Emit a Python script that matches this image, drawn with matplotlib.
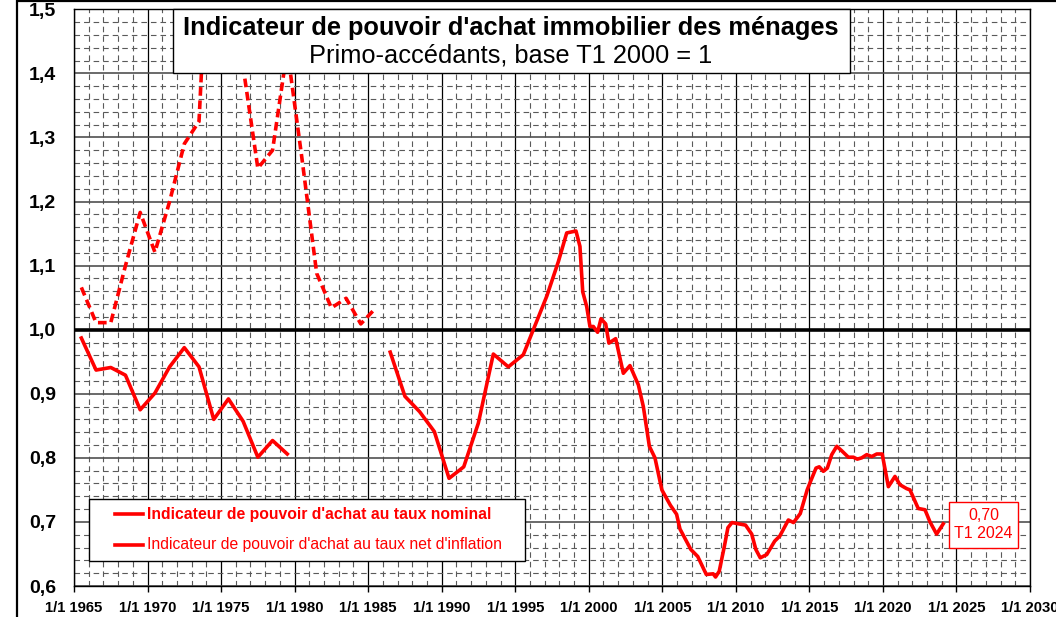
import matplotlib
matplotlib.use("Agg")
import matplotlib.pyplot as plt
from matplotlib.patches import Rectangle
from matplotlib.lines import Line2D
import numpy as np

plt.rcParams['font.family'] = ['Liberation Sans', 'DejaVu Sans']

# Indicateur au taux net d'inflation 1965-1985 (tirets)
annees_net = [1965.5, 1966.5, 1967.5, 1968.5, 1969.5, 1970.5, 1971.5, 1972.5, 1973.5,
              1974.5, 1975.5, 1976.5, 1977.5, 1978.5, 1979.5, 1980.5, 1981.5, 1982.5,
              1983.5, 1984.5, 1985.4]
indic_net = [1.066, 1.011, 1.011, 1.100, 1.183, 1.121, 1.200, 1.290, 1.325,
             1.790, 1.620, 1.410, 1.252, 1.280, 1.437, 1.267, 1.088, 1.034,
             1.049, 1.009, 1.031]

# Indicateur au taux nominal 1965-1979
annees_nom1 = [1965.5, 1966.5, 1967.5, 1968.5, 1969.5, 1970.5, 1971.5, 1972.5,
               1973.5, 1974.5, 1975.5, 1976.5, 1977.5, 1978.5, 1979.5]
indic_nom1 = [0.987, 0.937, 0.941, 0.929, 0.875, 0.901, 0.942, 0.972,
              0.942, 0.860, 0.892, 0.857, 0.801, 0.827, 0.806]

# Indicateur au taux nominal 1986-2024
annees_nom2 = [1986.5, 1987.5, 1988.5, 1989.5, 1990.5, 1991.5, 1992.49, 1993.51,
               1994.53, 1995.55, 1996.23, 1997.14, 1997.93, 1998.5, 1999.13, 1999.4,
               1999.59, 1999.86, 2000.08, 2000.31, 2000.6, 2000.83, 2001.15, 2001.37,
               2001.83, 2002.35, 2002.8, 2003.37, 2003.71, 2004.12, 2004.5, 2004.97,
               2005.55, 2005.97, 2006.2, 2006.94, 2007.41, 2007.99, 2008.46, 2008.62,
               2008.87, 2009.22, 2009.46, 2009.74, 2010.2, 2010.66, 2011.08, 2011.36,
               2011.66, 2012.1, 2012.64, 2012.99, 2013.57, 2013.92, 2014.38, 2014.85,
               2015.04, 2015.45, 2015.67, 2015.95, 2016.22, 2016.52, 2016.86, 2017.2,
               2017.65, 2017.99, 2018.26, 2018.56, 2018.9, 2019.24, 2019.58, 2019.95,
               2020.37, 2020.82, 2021.16, 2021.61, 2021.84, 2022.4, 2022.86, 2023.2,
               2023.65, 2024.1]
indic_nom2 = [0.965, 0.896, 0.872, 0.841, 0.768, 0.786, 0.854, 0.962,
              0.942, 0.961, 1.000, 1.052, 1.106, 1.151, 1.154, 1.130,
              1.059, 1.036, 1.005, 1.005, 0.996, 1.017, 1.009, 0.979,
              0.986, 0.932, 0.944, 0.914, 0.880, 0.818, 0.800, 0.750,
              0.726, 0.712, 0.689, 0.657, 0.646, 0.618, 0.619, 0.614,
              0.623, 0.662, 0.691, 0.699, 0.697, 0.695, 0.681, 0.657,
              0.644, 0.649, 0.670, 0.678, 0.703, 0.699, 0.713, 0.750,
              0.761, 0.784, 0.786, 0.779, 0.784, 0.805, 0.818, 0.811,
              0.801, 0.801, 0.798, 0.800, 0.805, 0.802, 0.806, 0.806,
              0.755, 0.771, 0.758, 0.752, 0.750, 0.721, 0.719, 0.700,
              0.681, 0.697]

annees_ticks = list(range(1965, 2031, 5))
valeurs_ticks = [0.6, 0.7, 0.8, 0.9, 1.0, 1.1, 1.2, 1.3, 1.4, 1.5]

W, H = 1056, 617


def fx(x):
    return x / W


def fy(y):
    return 1 - y / H


fig = plt.figure(figsize=(W / 100, H / 100), dpi=100)
ax = fig.add_axes([fx(74), fy(586), (1030 - 74) / W, (586 - 9.3) / H])

rouge = '#ff0000'
ax.plot(annees_net, indic_net, color=rouge, lw=2.6, ls=(0, (2.4, 1.3)), zorder=3)
ax.plot(annees_nom1, indic_nom1, color=rouge, lw=2.6, zorder=3)
ax.plot(annees_nom2, indic_nom2, color=rouge, lw=2.6, zorder=3)
ax.axhline(1.0, color='black', lw=2.6, zorder=2)

ax.set_xlim(1965, 2030)
ax.set_ylim(0.6, 1.5)
ax.set_xticks(annees_ticks)
ax.set_xticklabels(['1/1 %d' % a for a in annees_ticks], fontsize=10.7, fontweight='bold')
ax.set_xticks(range(1965, 2031), minor=True)
ax.set_yticks(valeurs_ticks)
ax.set_yticklabels([('%.1f' % v).replace('.', ',') for v in valeurs_ticks],
                   fontsize=14, fontweight='bold')
ax.set_yticks(np.arange(0.6, 1.5001, 0.02), minor=True)

ax.set_axisbelow(True)
ax.xaxis.grid(True, which='major', color='black', lw=0.9)
ax.xaxis.grid(True, which='minor', color='#5a5a5a', lw=0.8, ls=(0, (5, 3.6)))
ax.yaxis.grid(True, which='major', color='#505050', lw=1.2)
ax.yaxis.grid(True, which='minor', color='#5a5a5a', lw=0.8, ls=(0, (5, 3.6)))

ax.tick_params(axis='x', which='major', length=4, width=1, direction='out', pad=7)
ax.tick_params(which='minor', length=0)
ax.tick_params(axis='y', which='major', length=0, pad=13)
for s in ax.spines.values():
    s.set_color('black')
    s.set_linewidth(1)

# cadre du graphique
fig.add_artist(Rectangle((fx(17), -0.1), 1.2, fy(1) + 0.1, transform=fig.transFigure,
                         fill=False, ec='black', lw=1.6, zorder=1))

# cartouche du titre
fig.add_artist(Rectangle((fx(173), fy(72.7)), (850 - 173) / W, (72.7 - 9.3) / H,
                         transform=fig.transFigure, fc='white', ec='black', lw=1, zorder=5))
fig.text(fx(511), fy(28), "Indicateur de pouvoir d'achat immobilier des ménages",
         ha='center', va='center', fontsize=18.3, fontweight='bold', zorder=6)
fig.text(fx(511), fy(56), "Primo-accédants, base T1 2000 = 1",
         ha='center', va='center', fontsize=18.3, zorder=6)

# légende
fig.add_artist(Rectangle((fx(89), fy(561)), (525 - 89) / W, (561 - 499) / H,
                         transform=fig.transFigure, fc='white', ec='black', lw=1, zorder=5))
for yy, txt, poids in [(514, "Indicateur de pouvoir d'achat au taux nominal", 'bold'),
                       (545, "Indicateur de pouvoir d'achat au taux net d'inflation", 'normal')]:
    fig.add_artist(Line2D([fx(115), fx(143)], [fy(yy), fy(yy)], transform=fig.transFigure,
                          color=rouge, lw=2.6, zorder=6))
    fig.text(fx(147), fy(yy), txt, color=rouge, fontsize=11.3, fontweight=poids,
             ha='left', va='center', zorder=6)

# dernière valeur
fig.add_artist(Rectangle((fx(949), fy(548)), (1018 - 949) / W, (548 - 502) / H,
                         transform=fig.transFigure, fc='white', ec=rouge, lw=1, zorder=5))
fig.text(fx(983.5), fy(525), "0,70\nT1 2024", color=rouge, fontsize=11.5,
         ha='center', va='center', linespacing=1.25, zorder=6)

fig.savefig('out.png', dpi=100)
